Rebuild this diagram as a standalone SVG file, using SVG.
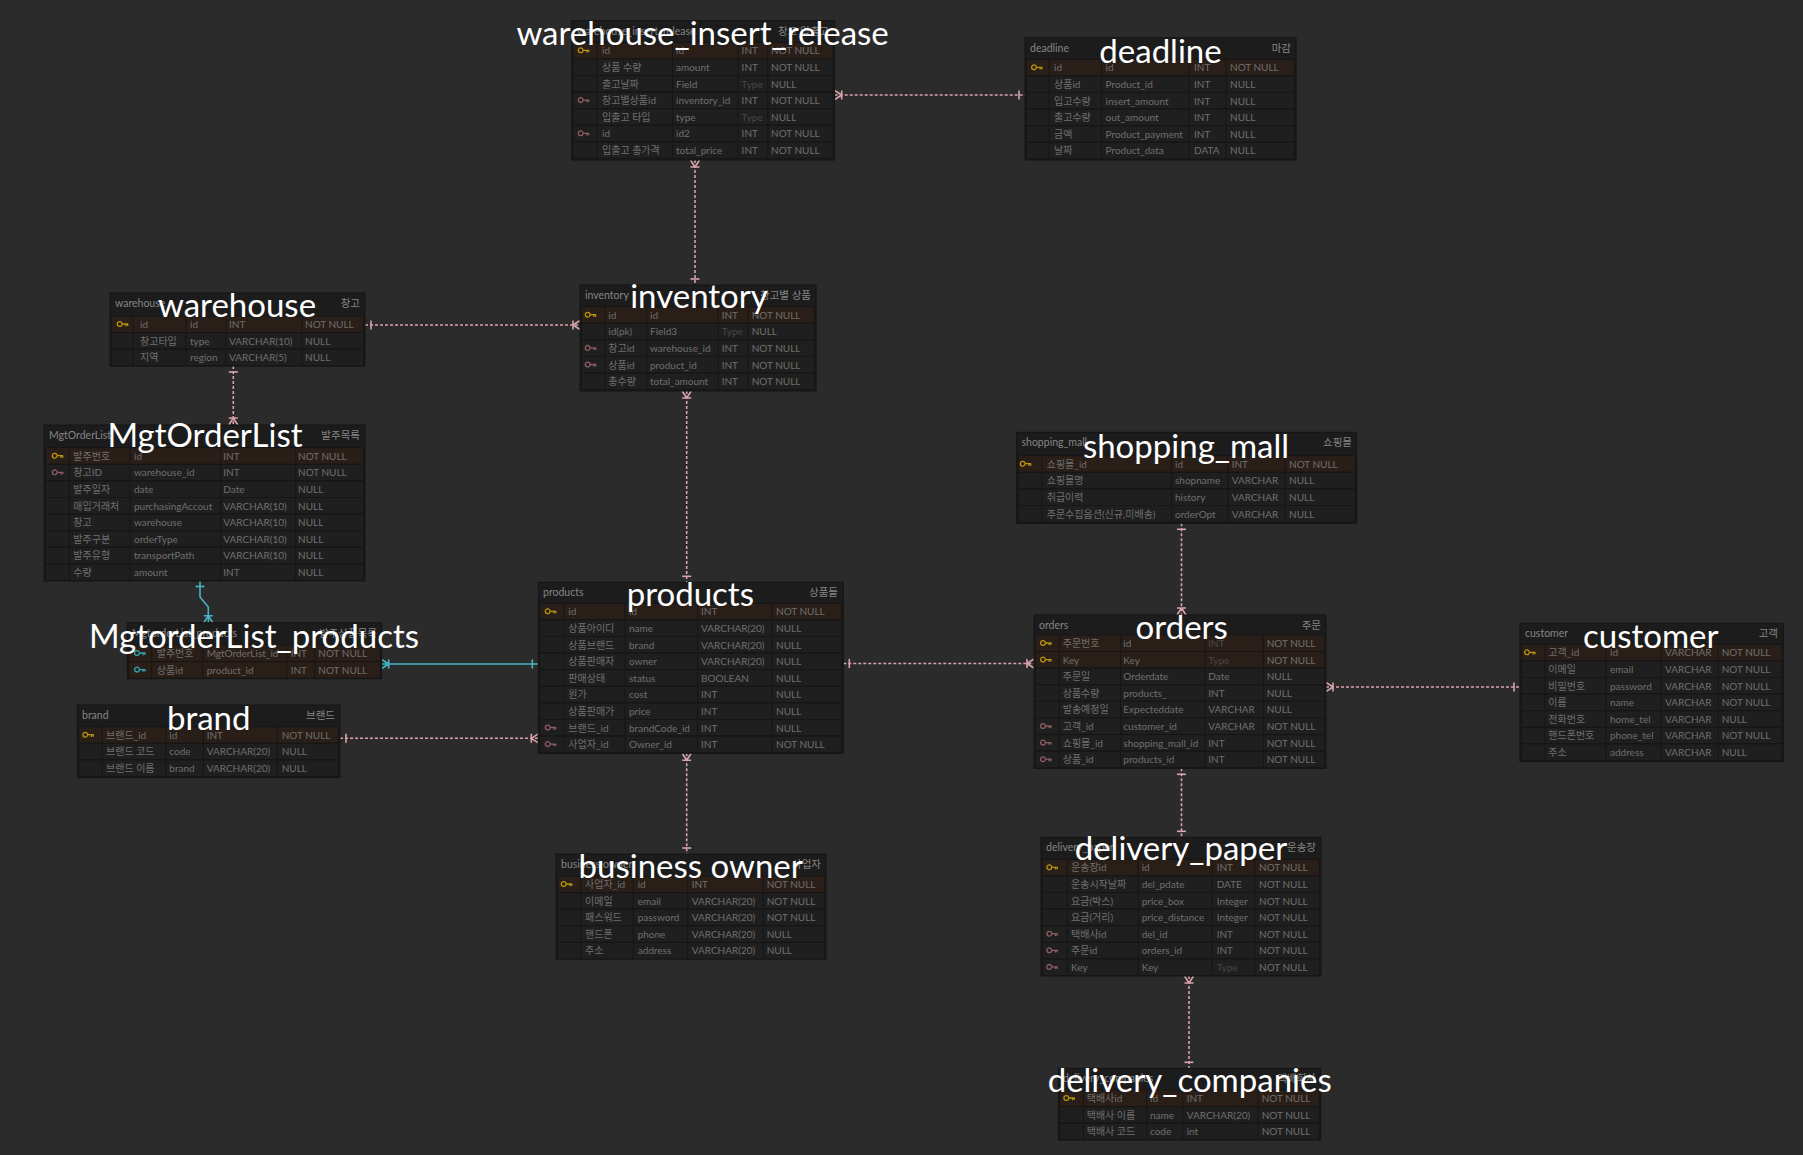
<svg xmlns="http://www.w3.org/2000/svg" xmlns:xlink="http://www.w3.org/1999/xlink" width="1803" height="1155" viewBox="0 0 1803 1155">
<style>
.bg{fill:#2b2b2b}
.tb{fill:#1c1c1c;stroke:#151515;stroke-width:1}
.rw{fill:#1f1f1f;stroke:#161616;stroke-width:1}
.pk{fill:#2a1f18;stroke:#161616;stroke-width:1}
.cl{stroke:#161616;stroke-width:1}
text{font-family:Lato,"Noto Sans CJK KR","Noto Sans",sans-serif}
.tn{font-size:10.5px;fill:#858585}
.c{font-size:10px;fill:#6f6f6f}
.d{font-size:10px;fill:#474747}
.big{font-size:33px;fill:#ffffff;text-anchor:middle}
.r{fill:none;stroke:#d9a2ac;stroke-width:1.6;stroke-dasharray:3 2}
.rc{fill:none;stroke:#46b4c3;stroke-width:1.6}
.kp{stroke:#b9950f;fill:none;stroke-width:1.3}
.kf{stroke:#8c5e63;fill:none;stroke-width:1.3}
.kc{stroke:#2fa7b8;fill:none;stroke-width:1.3}
</style>
<defs>
<symbol id="key" viewBox="-6 -4 12 8" width="12" height="8" overflow="visible">
<circle cx="-3" cy="0" r="2.4"/>
<path d="M-0.6,0 H5.5 M3.2,0 V2.2 M5,0 V2"/>
</symbol>
<marker id="oneP" markerUnits="userSpaceOnUse" viewBox="-12 -7 14 14" refX="0" refY="0" markerWidth="14" markerHeight="14" orient="auto-start-reverse">
<path d="M-6,-4.5 V4.5" stroke="#d9a2ac" stroke-width="1.6" fill="none"/>
</marker>
<marker id="manyP" markerUnits="userSpaceOnUse" viewBox="-12 -7 14 14" refX="0" refY="0" markerWidth="14" markerHeight="14" orient="auto-start-reverse">
<path d="M-7,0 L0,-4.5 M-7,0 L0,4.5 M-7,-4.5 V4.5" stroke="#d9a2ac" stroke-width="1.6" fill="none"/>
</marker>
<marker id="oneC" markerUnits="userSpaceOnUse" viewBox="-12 -7 14 14" refX="0" refY="0" markerWidth="14" markerHeight="14" orient="auto-start-reverse">
<path d="M-6,-4.5 V4.5" stroke="#46b4c3" stroke-width="1.6" fill="none"/>
</marker>
<marker id="manyC" markerUnits="userSpaceOnUse" viewBox="-12 -7 14 14" refX="0" refY="0" markerWidth="14" markerHeight="14" orient="auto-start-reverse">
<path d="M-7,0 L0,-4.5 M-7,0 L0,4.5 M-7,-4.5 V4.5" stroke="#46b4c3" stroke-width="1.6" fill="none"/>
</marker>
</defs>
<rect class="bg" x="0" y="0" width="1803" height="1155"/>

<g id="connectors">
<path class="r" d="M834.7,95 H1025" marker-start="url(#manyP)" marker-end="url(#oneP)"/>
<path class="r" d="M695,160 V285" marker-start="url(#manyP)" marker-end="url(#oneP)"/>
<path class="r" d="M365,325 H580" marker-start="url(#oneP)" marker-end="url(#manyP)"/>
<path class="r" d="M233.3,366 V425" marker-start="url(#oneP)" marker-end="url(#manyP)"/>
<path class="r" d="M686.7,391 V582.3" marker-start="url(#manyP)" marker-end="url(#oneP)"/>
<path class="rc" d="M200,580.5 V597 L208.3,607 V622.7" marker-start="url(#oneC)" marker-end="url(#manyC)"/>
<path class="rc" d="M381.7,664 H538.3" marker-start="url(#manyC)" marker-end="url(#oneC)"/>
<path class="r" d="M340,738.3 H538.3" marker-start="url(#oneP)" marker-end="url(#manyP)"/>
<path class="r" d="M686.7,753.3 V854" marker-start="url(#manyP)" marker-end="url(#oneP)"/>
<path class="r" d="M843.3,663.5 H1034" marker-start="url(#oneP)" marker-end="url(#manyP)"/>
<path class="r" d="M1181.5,523.3 V615" marker-start="url(#oneP)" marker-end="url(#manyP)"/>
<path class="r" d="M1326,687 H1520" marker-start="url(#manyP)" marker-end="url(#oneP)"/>
<path class="r" d="M1181.5,768.3 V837.3" marker-start="url(#oneP)" marker-end="url(#oneP)"/>
<path class="r" d="M1189,976 V1068.3" marker-start="url(#manyP)" marker-end="url(#oneP)"/>
</g>

<!-- warehouse_insert_release -->
<g id="warehouse_insert_release">
<rect class="tb" x="571.6" y="20.7" width="263" height="139.3"/>
<text class="tn" x="577" y="34.7">warehouse_insert_release</text>
<text class="tn" x="829" y="34.7" text-anchor="end">창고 입출고</text>
<rect class="pk" x="573" y="42.3" width="260" height="16.6"/>
<rect class="rw" x="573" y="58.9" width="260" height="16.6"/>
<rect class="rw" x="573" y="75.5" width="260" height="16.6"/>
<rect class="rw" x="573" y="92.1" width="260" height="16.6"/>
<rect class="rw" x="573" y="108.7" width="260" height="16.6"/>
<rect class="rw" x="573" y="125.3" width="260" height="16.6"/>
<rect class="rw" x="573" y="141.9" width="260" height="16.6"/>
<path class="cl" d="M596.8,42.3 V158.5 M672.6,42.3 V158.5 M738,42.3 V158.5 M767.8,42.3 V158.5"/>
<use href="#key" x="577.7" y="46.3" class="kp"/>
<use href="#key" x="577.7" y="96.1" class="kf"/>
<use href="#key" x="577.7" y="129.3" class="kf"/>
<text class="c" x="602" y="54.3">id</text><text class="c" x="676" y="54.3">id</text><text class="c" x="741.6" y="54.3">INT</text><text class="c" x="771" y="54.3">NOT NULL</text>
<text class="c" x="602" y="70.9">상품 수량</text><text class="c" x="676" y="70.9">amount</text><text class="c" x="741.6" y="70.9">INT</text><text class="c" x="771" y="70.9">NOT NULL</text>
<text class="c" x="602" y="87.5">출고날짜</text><text class="c" x="676" y="87.5">Field</text><text class="d" x="741.6" y="87.5">Type</text><text class="c" x="771" y="87.5">NULL</text>
<text class="c" x="602" y="104.1">창고별상품id</text><text class="c" x="676" y="104.1">inventory_id</text><text class="c" x="741.6" y="104.1">INT</text><text class="c" x="771" y="104.1">NOT NULL</text>
<text class="c" x="602" y="120.7">입출고 타입</text><text class="c" x="676" y="120.7">type</text><text class="d" x="741.6" y="120.7">Type</text><text class="c" x="771" y="120.7">NULL</text>
<text class="c" x="602" y="137.3">id</text><text class="c" x="676" y="137.3">id2</text><text class="c" x="741.6" y="137.3">INT</text><text class="c" x="771" y="137.3">NOT NULL</text>
<text class="c" x="602" y="153.9">입출고 총가격</text><text class="c" x="676" y="153.9">total_price</text><text class="c" x="741.6" y="153.9">INT</text><text class="c" x="771" y="153.9">NOT NULL</text>
<text class="big" x="702.6" y="45">warehouse_insert_release</text>
</g>

<!-- deadline -->
<g id="deadline">
<rect class="tb" x="1025" y="37.7" width="271" height="122.3"/>
<text class="tn" x="1030" y="51.7">deadline</text>
<text class="tn" x="1291" y="51.7" text-anchor="end">마감</text>
<rect class="pk" x="1026.5" y="59.3" width="268" height="16.6"/>
<rect class="rw" x="1026.5" y="75.9" width="268" height="16.6"/>
<rect class="rw" x="1026.5" y="92.5" width="268" height="16.6"/>
<rect class="rw" x="1026.5" y="109.1" width="268" height="16.6"/>
<rect class="rw" x="1026.5" y="125.7" width="268" height="16.6"/>
<rect class="rw" x="1026.5" y="142.3" width="268" height="16.6"/>
<path class="cl" d="M1049,59.3 V158.9 M1101.5,59.3 V158.9 M1189,59.3 V158.9 M1226,59.3 V158.9"/>
<use href="#key" x="1031" y="63.3" class="kp"/>
<text class="c" x="1054" y="71.3">id</text><text class="c" x="1105.6" y="71.3">id</text><text class="c" x="1194" y="71.3">INT</text><text class="c" x="1230" y="71.3">NOT NULL</text>
<text class="c" x="1054" y="87.9">상품id</text><text class="c" x="1105.6" y="87.9">Product_id</text><text class="c" x="1194" y="87.9">INT</text><text class="c" x="1230" y="87.9">NULL</text>
<text class="c" x="1054" y="104.5">입고수량</text><text class="c" x="1105.6" y="104.5">insert_amount</text><text class="c" x="1194" y="104.5">INT</text><text class="c" x="1230" y="104.5">NULL</text>
<text class="c" x="1054" y="121.1">출고수량</text><text class="c" x="1105.6" y="121.1">out_amount</text><text class="c" x="1194" y="121.1">INT</text><text class="c" x="1230" y="121.1">NULL</text>
<text class="c" x="1054" y="137.7">금액</text><text class="c" x="1105.6" y="137.7">Product_payment</text><text class="c" x="1194" y="137.7">INT</text><text class="c" x="1230" y="137.7">NULL</text>
<text class="c" x="1054" y="154.3">날짜</text><text class="c" x="1105.6" y="154.3">Product_data</text><text class="c" x="1194" y="154.3">DATA</text><text class="c" x="1230" y="154.3">NULL</text>
<text class="big" x="1160.5" y="63">deadline</text>
</g>

<!-- inventory -->
<g id="inventory">
<rect class="tb" x="580" y="285" width="236" height="106"/>
<text class="tn" x="585" y="299">inventory</text>
<text class="tn" x="811" y="299" text-anchor="end">창고별 상품</text>
<rect class="pk" x="581.5" y="306.7" width="233" height="16.6"/>
<rect class="rw" x="581.5" y="323.3" width="233" height="16.6"/>
<rect class="rw" x="581.5" y="339.9" width="233" height="16.6"/>
<rect class="rw" x="581.5" y="356.5" width="233" height="16.6"/>
<rect class="rw" x="581.5" y="373.1" width="233" height="16.6"/>
<path class="cl" d="M605,306.7 V389.7 M646.7,306.7 V389.7 M718.3,306.7 V389.7 M748.3,306.7 V389.7"/>
<use href="#key" x="584.7" y="310.7" class="kp"/>
<use href="#key" x="584.7" y="343.9" class="kf"/>
<use href="#key" x="584.7" y="360.5" class="kf"/>
<text class="c" x="608.3" y="318.7">id</text><text class="c" x="650" y="318.7">id</text><text class="c" x="721.7" y="318.7">INT</text><text class="c" x="751.7" y="318.7">NOT NULL</text>
<text class="c" x="608.3" y="335.3">id(pk)</text><text class="c" x="650" y="335.3">Field3</text><text class="d" x="721.7" y="335.3">Type</text><text class="c" x="751.7" y="335.3">NULL</text>
<text class="c" x="608.3" y="351.9">창고id</text><text class="c" x="650" y="351.9">warehouse_id</text><text class="c" x="721.7" y="351.9">INT</text><text class="c" x="751.7" y="351.9">NOT NULL</text>
<text class="c" x="608.3" y="368.5">상품id</text><text class="c" x="650" y="368.5">product_id</text><text class="c" x="721.7" y="368.5">INT</text><text class="c" x="751.7" y="368.5">NOT NULL</text>
<text class="c" x="608.3" y="385.1">총수량</text><text class="c" x="650" y="385.1">total_amount</text><text class="c" x="721.7" y="385.1">INT</text><text class="c" x="751.7" y="385.1">NOT NULL</text>
<text class="big" x="699" y="308.3">inventory</text>
</g>

<!-- warehouse -->
<g id="warehouse">
<rect class="tb" x="110" y="293" width="255" height="73"/>
<text class="tn" x="115" y="307">warehouse</text>
<text class="tn" x="360" y="307" text-anchor="end">창고</text>
<rect class="pk" x="111.5" y="316" width="252" height="16.6"/>
<rect class="rw" x="111.5" y="332.6" width="252" height="16.6"/>
<rect class="rw" x="111.5" y="349.2" width="252" height="16.6"/>
<path class="cl" d="M133,316 V365.8 M186,316 V365.8 M226,316 V365.8 M302,316 V365.8"/>
<use href="#key" x="116.7" y="320" class="kp"/>
<text class="c" x="140" y="328">id</text><text class="c" x="190" y="328">id</text><text class="c" x="229" y="328">INT</text><text class="c" x="305" y="328">NOT NULL</text>
<text class="c" x="140" y="344.6">창고타입</text><text class="c" x="190" y="344.6">type</text><text class="c" x="229" y="344.6">VARCHAR(10)</text><text class="c" x="305" y="344.6">NULL</text>
<text class="c" x="140" y="361.2">지역</text><text class="c" x="190" y="361.2">region</text><text class="c" x="229" y="361.2">VARCHAR(5)</text><text class="c" x="305" y="361.2">NULL</text>
<text class="big" x="237" y="317.3">warehouse</text>
</g>

<!-- MgtOrderList -->
<g id="MgtOrderList">
<rect class="tb" x="44" y="425" width="321" height="156"/>
<text class="tn" x="49" y="439">MgtOrderList</text>
<text class="tn" x="360" y="439" text-anchor="end">발주목록</text>
<rect class="pk" x="45.5" y="447.7" width="318" height="16.6"/>
<rect class="rw" x="45.5" y="464.3" width="318" height="16.6"/>
<rect class="rw" x="45.5" y="480.9" width="318" height="16.6"/>
<rect class="rw" x="45.5" y="497.5" width="318" height="16.6"/>
<rect class="rw" x="45.5" y="514.1" width="318" height="16.6"/>
<rect class="rw" x="45.5" y="530.7" width="318" height="16.6"/>
<rect class="rw" x="45.5" y="547.3" width="318" height="16.6"/>
<rect class="rw" x="45.5" y="563.9" width="318" height="16.6"/>
<path class="cl" d="M69.3,447.7 V580.5 M130,447.7 V580.5 M220.7,447.7 V580.5 M295.7,447.7 V580.5"/>
<use href="#key" x="51.7" y="451.7" class="kp"/>
<use href="#key" x="51.7" y="468.3" class="kf"/>
<text class="c" x="73.3" y="459.7">발주번호</text><text class="c" x="134" y="459.7">id</text><text class="c" x="223.3" y="459.7">INT</text><text class="c" x="298" y="459.7">NOT NULL</text>
<text class="c" x="73.3" y="476.3">창고ID</text><text class="c" x="134" y="476.3">warehouse_id</text><text class="c" x="223.3" y="476.3">INT</text><text class="c" x="298" y="476.3">NOT NULL</text>
<text class="c" x="73.3" y="492.9">발주일자</text><text class="c" x="134" y="492.9">date</text><text class="c" x="223.3" y="492.9">Date</text><text class="c" x="298" y="492.9">NULL</text>
<text class="c" x="73.3" y="509.5">매입거래처</text><text class="c" x="134" y="509.5">purchasingAccout</text><text class="c" x="223.3" y="509.5">VARCHAR(10)</text><text class="c" x="298" y="509.5">NULL</text>
<text class="c" x="73.3" y="526.1">창고</text><text class="c" x="134" y="526.1">warehouse</text><text class="c" x="223.3" y="526.1">VARCHAR(10)</text><text class="c" x="298" y="526.1">NULL</text>
<text class="c" x="73.3" y="542.7">발주구분</text><text class="c" x="134" y="542.7">orderType</text><text class="c" x="223.3" y="542.7">VARCHAR(10)</text><text class="c" x="298" y="542.7">NULL</text>
<text class="c" x="73.3" y="559.3">발주유형</text><text class="c" x="134" y="559.3">transportPath</text><text class="c" x="223.3" y="559.3">VARCHAR(10)</text><text class="c" x="298" y="559.3">NULL</text>
<text class="c" x="73.3" y="575.9">수량</text><text class="c" x="134" y="575.9">amount</text><text class="c" x="223.3" y="575.9">INT</text><text class="c" x="298" y="575.9">NULL</text>
<text class="big" x="205" y="446.7">MgtOrderList</text>
</g>

<!-- MgtorderList_products -->
<g id="MgtorderList_products">
<rect class="tb" x="127.3" y="622.7" width="254.4" height="56"/>
<text class="tn" x="132" y="636.7">MgtorderList_products</text>
<text class="tn" x="377" y="636.7" text-anchor="end">발주상품목록</text>
<rect class="pk" x="128.8" y="645" width="251.4" height="16.6"/>
<rect class="pk" x="128.8" y="661.6" width="251.4" height="16.6"/>
<path class="cl" d="M151.7,645 V678.2 M202.7,645 V678.2 M286.7,645 V678.2 M315,645 V678.2"/>
<use href="#key" x="134" y="649" class="kc"/>
<use href="#key" x="134" y="665.6" class="kc"/>
<text class="c" x="156.7" y="657">발주번호</text><text class="c" x="206.7" y="657">MgtOrderList_id</text><text class="c" x="290.7" y="657">INT</text><text class="c" x="318.3" y="657">NOT NULL</text>
<text class="c" x="156.7" y="673.6">상품id</text><text class="c" x="206.7" y="673.6">product_id</text><text class="c" x="290.7" y="673.6">INT</text><text class="c" x="318.3" y="673.6">NOT NULL</text>
<text class="big" x="254" y="647.7">MgtorderList_products</text>
</g>

<!-- brand -->
<g id="brand">
<rect class="tb" x="77.3" y="705" width="262.7" height="72.7"/>
<text class="tn" x="82" y="719">brand</text>
<text class="tn" x="335" y="719" text-anchor="end">브랜드</text>
<rect class="pk" x="78.8" y="726.7" width="259.7" height="16.6"/>
<rect class="rw" x="78.8" y="743.3" width="259.7" height="16.6"/>
<rect class="rw" x="78.8" y="759.9" width="259.7" height="16.6"/>
<path class="cl" d="M102.3,726.7 V776.5 M165.7,726.7 V776.5 M203.3,726.7 V776.5 M277.3,726.7 V776.5"/>
<use href="#key" x="82.3" y="730.7" class="kp"/>
<text class="c" x="106" y="738.7">브랜드_id</text><text class="c" x="169.3" y="738.7">id</text><text class="c" x="206.7" y="738.7">INT</text><text class="c" x="281.7" y="738.7">NOT NULL</text>
<text class="c" x="106" y="755.3">브랜드 코드</text><text class="c" x="169.3" y="755.3">code</text><text class="c" x="206.7" y="755.3">VARCHAR(20)</text><text class="c" x="281.7" y="755.3">NULL</text>
<text class="c" x="106" y="771.9">브랜드 이름</text><text class="c" x="169.3" y="771.9">brand</text><text class="c" x="206.7" y="771.9">VARCHAR(20)</text><text class="c" x="281.7" y="771.9">NULL</text>
<text class="big" x="208.7" y="730">brand</text>
</g>

<!-- products -->
<g id="products">
<rect class="tb" x="538.3" y="582.3" width="305" height="171"/>
<text class="tn" x="543" y="596.3">products</text>
<text class="tn" x="838" y="596.3" text-anchor="end">상품들</text>
<rect class="pk" x="539.8" y="603.3" width="302" height="16.6"/>
<rect class="rw" x="539.8" y="619.9" width="302" height="16.6"/>
<rect class="rw" x="539.8" y="636.5" width="302" height="16.6"/>
<rect class="rw" x="539.8" y="653.1" width="302" height="16.6"/>
<rect class="rw" x="539.8" y="669.7" width="302" height="16.6"/>
<rect class="rw" x="539.8" y="686.3" width="302" height="16.6"/>
<rect class="rw" x="539.8" y="702.9" width="302" height="16.6"/>
<rect class="rw" x="539.8" y="719.5" width="302" height="16.6"/>
<rect class="rw" x="539.8" y="736.1" width="302" height="16.6"/>
<path class="cl" d="M564,603.3 V752.7 M625,603.3 V752.7 M697.7,603.3 V752.7 M772.3,603.3 V752.7"/>
<use href="#key" x="544.7" y="607.3" class="kp"/>
<use href="#key" x="544.7" y="723.5" class="kf"/>
<use href="#key" x="544.7" y="740.1" class="kf"/>
<text class="c" x="568.3" y="615.3">id</text><text class="c" x="629" y="615.3">id</text><text class="c" x="701" y="615.3">INT</text><text class="c" x="776" y="615.3">NOT NULL</text>
<text class="c" x="568.3" y="631.9">상품아이디</text><text class="c" x="629" y="631.9">name</text><text class="c" x="701" y="631.9">VARCHAR(20)</text><text class="c" x="776" y="631.9">NULL</text>
<text class="c" x="568.3" y="648.5">상품브랜드</text><text class="c" x="629" y="648.5">brand</text><text class="c" x="701" y="648.5">VARCHAR(20)</text><text class="c" x="776" y="648.5">NULL</text>
<text class="c" x="568.3" y="665.1">상품판매자</text><text class="c" x="629" y="665.1">owner</text><text class="c" x="701" y="665.1">VARCHAR(20)</text><text class="c" x="776" y="665.1">NULL</text>
<text class="c" x="568.3" y="681.7">판매상태</text><text class="c" x="629" y="681.7">status</text><text class="c" x="701" y="681.7">BOOLEAN</text><text class="c" x="776" y="681.7">NULL</text>
<text class="c" x="568.3" y="698.3">원가</text><text class="c" x="629" y="698.3">cost</text><text class="c" x="701" y="698.3">INT</text><text class="c" x="776" y="698.3">NULL</text>
<text class="c" x="568.3" y="714.9">상품판매가</text><text class="c" x="629" y="714.9">price</text><text class="c" x="701" y="714.9">INT</text><text class="c" x="776" y="714.9">NULL</text>
<text class="c" x="568.3" y="731.5">브랜드_id</text><text class="c" x="629" y="731.5">brandCode_id</text><text class="c" x="701" y="731.5">INT</text><text class="c" x="776" y="731.5">NULL</text>
<text class="c" x="568.3" y="748.1">사업자_id</text><text class="c" x="629" y="748.1">Owner_id</text><text class="c" x="701" y="748.1">INT</text><text class="c" x="776" y="748.1">NOT NULL</text>
<text class="big" x="690.3" y="605.7">products</text>
</g>

<!-- business owner -->
<g id="business_owner">
<rect class="tb" x="556" y="854" width="270" height="105"/>
<text class="tn" x="561" y="868">business owner</text>
<text class="tn" x="821" y="868" text-anchor="end">사업자</text>
<rect class="pk" x="557.5" y="876" width="267" height="16.6"/>
<rect class="rw" x="557.5" y="892.6" width="267" height="16.6"/>
<rect class="rw" x="557.5" y="909.2" width="267" height="16.6"/>
<rect class="rw" x="557.5" y="925.8" width="267" height="16.6"/>
<rect class="rw" x="557.5" y="942.4" width="267" height="16.6"/>
<path class="cl" d="M580.7,876 V959 M633.3,876 V959 M687.7,876 V959 M763.3,876 V959"/>
<use href="#key" x="560.7" y="880" class="kp"/>
<text class="c" x="585" y="888">사업자_id</text><text class="c" x="637.7" y="888">id</text><text class="c" x="691.7" y="888">INT</text><text class="c" x="766.7" y="888">NOT NULL</text>
<text class="c" x="585" y="904.6">이메일</text><text class="c" x="637.7" y="904.6">email</text><text class="c" x="691.7" y="904.6">VARCHAR(20)</text><text class="c" x="766.7" y="904.6">NOT NULL</text>
<text class="c" x="585" y="921.2">패스워드</text><text class="c" x="637.7" y="921.2">password</text><text class="c" x="691.7" y="921.2">VARCHAR(20)</text><text class="c" x="766.7" y="921.2">NOT NULL</text>
<text class="c" x="585" y="937.8">핸드폰</text><text class="c" x="637.7" y="937.8">phone</text><text class="c" x="691.7" y="937.8">VARCHAR(20)</text><text class="c" x="766.7" y="937.8">NULL</text>
<text class="c" x="585" y="954.4">주소</text><text class="c" x="637.7" y="954.4">address</text><text class="c" x="691.7" y="954.4">VARCHAR(20)</text><text class="c" x="766.7" y="954.4">NULL</text>
<text class="big" x="690.7" y="878.3">business owner</text>
</g>

<!-- shopping_mall -->
<g id="shopping_mall">
<rect class="tb" x="1016.7" y="432.3" width="340" height="91"/>
<text class="tn" x="1021.5" y="446.3">shopping_mall</text>
<text class="tn" x="1352" y="446.3" text-anchor="end">쇼핑몰</text>
<rect class="pk" x="1018.2" y="455.7" width="337" height="16.6"/>
<rect class="rw" x="1018.2" y="472.3" width="337" height="16.6"/>
<rect class="rw" x="1018.2" y="488.9" width="337" height="16.6"/>
<rect class="rw" x="1018.2" y="505.5" width="337" height="16.6"/>
<path class="cl" d="M1041.7,455.7 V522.1 M1171.7,455.7 V522.1 M1227.7,455.7 V522.1 M1285,455.7 V522.1"/>
<use href="#key" x="1019.7" y="459.7" class="kp"/>
<text class="c" x="1046.7" y="467.7">쇼핑몰_id</text><text class="c" x="1175" y="467.7">id</text><text class="c" x="1231.7" y="467.7">INT</text><text class="c" x="1289" y="467.7">NOT NULL</text>
<text class="c" x="1046.7" y="484.3">쇼핑몰명</text><text class="c" x="1175" y="484.3">shopname</text><text class="c" x="1231.7" y="484.3">VARCHAR</text><text class="c" x="1289" y="484.3">NULL</text>
<text class="c" x="1046.7" y="500.9">취급이력</text><text class="c" x="1175" y="500.9">history</text><text class="c" x="1231.7" y="500.9">VARCHAR</text><text class="c" x="1289" y="500.9">NULL</text>
<text class="c" x="1046.7" y="517.5">주문수집옵션(신규,미배송)</text><text class="c" x="1175" y="517.5">orderOpt</text><text class="c" x="1231.7" y="517.5">VARCHAR</text><text class="c" x="1289" y="517.5">NULL</text>
<text class="big" x="1186" y="458.3">shopping_mall</text>
</g>

<!-- orders -->
<g id="orders">
<rect class="tb" x="1034" y="615" width="292" height="153.3"/>
<text class="tn" x="1039" y="629">orders</text>
<text class="tn" x="1321" y="629" text-anchor="end">주문</text>
<rect class="pk" x="1035.5" y="635" width="289" height="16.6"/>
<rect class="pk" x="1035.5" y="651.6" width="289" height="16.6"/>
<rect class="rw" x="1035.5" y="668.2" width="289" height="16.6"/>
<rect class="rw" x="1035.5" y="684.8" width="289" height="16.6"/>
<rect class="rw" x="1035.5" y="701.4" width="289" height="16.6"/>
<rect class="rw" x="1035.5" y="718" width="289" height="16.6"/>
<rect class="rw" x="1035.5" y="734.6" width="289" height="16.6"/>
<rect class="rw" x="1035.5" y="751.2" width="289" height="16.6"/>
<path class="cl" d="M1059.3,635 V767.8 M1120.7,635 V767.8 M1205,635 V767.8 M1263.3,635 V767.8"/>
<use href="#key" x="1040" y="639" class="kp"/>
<use href="#key" x="1040" y="655.6" class="kp"/>
<use href="#key" x="1040" y="722" class="kf"/>
<use href="#key" x="1040" y="738.6" class="kf"/>
<use href="#key" x="1040" y="755.2" class="kf"/>
<text class="c" x="1062.7" y="647">주문번호</text><text class="c" x="1123.3" y="647">id</text><text class="d" x="1208.3" y="647">INT</text><text class="c" x="1266.7" y="647">NOT NULL</text>
<text class="c" x="1062.7" y="663.6">Key</text><text class="c" x="1123.3" y="663.6">Key</text><text class="d" x="1208.3" y="663.6">Type</text><text class="c" x="1266.7" y="663.6">NOT NULL</text>
<text class="c" x="1062.7" y="680.2">주문일</text><text class="c" x="1123.3" y="680.2">Orderdate</text><text class="c" x="1208.3" y="680.2">Date</text><text class="c" x="1266.7" y="680.2">NULL</text>
<text class="c" x="1062.7" y="696.8">상품수량</text><text class="c" x="1123.3" y="696.8">products_</text><text class="c" x="1208.3" y="696.8">INT</text><text class="c" x="1266.7" y="696.8">NULL</text>
<text class="c" x="1062.7" y="713.4">발송예정일</text><text class="c" x="1123.3" y="713.4">Expecteddate</text><text class="c" x="1208.3" y="713.4">VARCHAR</text><text class="c" x="1266.7" y="713.4">NULL</text>
<text class="c" x="1062.7" y="730">고객_id</text><text class="c" x="1123.3" y="730">customer_id</text><text class="c" x="1208.3" y="730">VARCHAR</text><text class="c" x="1266.7" y="730">NOT NULL</text>
<text class="c" x="1062.7" y="746.6">쇼핑몰_id</text><text class="c" x="1123.3" y="746.6">shopping_mall_id</text><text class="c" x="1208.3" y="746.6">INT</text><text class="c" x="1266.7" y="746.6">NOT NULL</text>
<text class="c" x="1062.7" y="763.2">상품_id</text><text class="c" x="1123.3" y="763.2">products_id</text><text class="c" x="1208.3" y="763.2">INT</text><text class="c" x="1266.7" y="763.2">NOT NULL</text>
<text class="big" x="1181.7" y="639">orders</text>
</g>

<!-- customer -->
<g id="customer">
<rect class="tb" x="1520" y="623.3" width="263.3" height="138.4"/>
<text class="tn" x="1525" y="637.3">customer</text>
<text class="tn" x="1778" y="637.3" text-anchor="end">고객</text>
<rect class="pk" x="1521.5" y="644.3" width="260.3" height="16.6"/>
<rect class="rw" x="1521.5" y="660.9" width="260.3" height="16.6"/>
<rect class="rw" x="1521.5" y="677.5" width="260.3" height="16.6"/>
<rect class="rw" x="1521.5" y="694.1" width="260.3" height="16.6"/>
<rect class="rw" x="1521.5" y="710.7" width="260.3" height="16.6"/>
<rect class="rw" x="1521.5" y="727.3" width="260.3" height="16.6"/>
<rect class="rw" x="1521.5" y="743.9" width="260.3" height="16.6"/>
<path class="cl" d="M1545,644.3 V760.5 M1605.7,644.3 V760.5 M1661,644.3 V760.5 M1718.3,644.3 V760.5"/>
<use href="#key" x="1524" y="648.3" class="kp"/>
<text class="c" x="1548.3" y="656.3">고객_id</text><text class="c" x="1610" y="656.3">id</text><text class="c" x="1665" y="656.3">VARCHAR</text><text class="c" x="1721.7" y="656.3">NOT NULL</text>
<text class="c" x="1548.3" y="672.9">이메일</text><text class="c" x="1610" y="672.9">email</text><text class="c" x="1665" y="672.9">VARCHAR</text><text class="c" x="1721.7" y="672.9">NOT NULL</text>
<text class="c" x="1548.3" y="689.5">비밀번호</text><text class="c" x="1610" y="689.5">password</text><text class="c" x="1665" y="689.5">VARCHAR</text><text class="c" x="1721.7" y="689.5">NOT NULL</text>
<text class="c" x="1548.3" y="706.1">이름</text><text class="c" x="1610" y="706.1">name</text><text class="c" x="1665" y="706.1">VARCHAR</text><text class="c" x="1721.7" y="706.1">NOT NULL</text>
<text class="c" x="1548.3" y="722.7">전화번호</text><text class="c" x="1610" y="722.7">home_tel</text><text class="c" x="1665" y="722.7">VARCHAR</text><text class="c" x="1721.7" y="722.7">NULL</text>
<text class="c" x="1548.3" y="739.3">핸드폰번호</text><text class="c" x="1610" y="739.3">phone_tel</text><text class="c" x="1665" y="739.3">VARCHAR</text><text class="c" x="1721.7" y="739.3">NOT NULL</text>
<text class="c" x="1548.3" y="755.9">주소</text><text class="c" x="1610" y="755.9">address</text><text class="c" x="1665" y="755.9">VARCHAR</text><text class="c" x="1721.7" y="755.9">NULL</text>
<text class="big" x="1650.8" y="648.3">customer</text>
</g>

<!-- delivery_paper -->
<g id="delivery_paper">
<rect class="tb" x="1041" y="837.3" width="280" height="138.7"/>
<text class="tn" x="1046" y="851.3">delivery_paper</text>
<text class="tn" x="1316" y="851.3" text-anchor="end">운송장</text>
<rect class="pk" x="1042.5" y="859.3" width="277" height="16.6"/>
<rect class="rw" x="1042.5" y="875.9" width="277" height="16.6"/>
<rect class="rw" x="1042.5" y="892.5" width="277" height="16.6"/>
<rect class="rw" x="1042.5" y="909.1" width="277" height="16.6"/>
<rect class="rw" x="1042.5" y="925.7" width="277" height="16.6"/>
<rect class="rw" x="1042.5" y="942.3" width="277" height="16.6"/>
<rect class="rw" x="1042.5" y="958.9" width="277" height="16.6"/>
<path class="cl" d="M1067.3,859.3 V975.5 M1138.3,859.3 V975.5 M1212.3,859.3 V975.5 M1255,859.3 V975.5"/>
<use href="#key" x="1046.3" y="863.3" class="kp"/>
<use href="#key" x="1046.3" y="929.7" class="kf"/>
<use href="#key" x="1046.3" y="946.3" class="kf"/>
<use href="#key" x="1046.3" y="962.9" class="kf"/>
<text class="c" x="1071" y="871.3">운송장id</text><text class="c" x="1141.7" y="871.3">id</text><text class="c" x="1216.7" y="871.3">INT</text><text class="c" x="1259" y="871.3">NOT NULL</text>
<text class="c" x="1071" y="887.9">운송시작날짜</text><text class="c" x="1141.7" y="887.9">del_pdate</text><text class="c" x="1216.7" y="887.9">DATE</text><text class="c" x="1259" y="887.9">NOT NULL</text>
<text class="c" x="1071" y="904.5">요금(박스)</text><text class="c" x="1141.7" y="904.5">price_box</text><text class="c" x="1216.7" y="904.5">Integer</text><text class="c" x="1259" y="904.5">NOT NULL</text>
<text class="c" x="1071" y="921.1">요금(거리)</text><text class="c" x="1141.7" y="921.1">price_distance</text><text class="c" x="1216.7" y="921.1">Integer</text><text class="c" x="1259" y="921.1">NOT NULL</text>
<text class="c" x="1071" y="937.7">택배사id</text><text class="c" x="1141.7" y="937.7">del_id</text><text class="c" x="1216.7" y="937.7">INT</text><text class="c" x="1259" y="937.7">NOT NULL</text>
<text class="c" x="1071" y="954.3">주문id</text><text class="c" x="1141.7" y="954.3">orders_id</text><text class="c" x="1216.7" y="954.3">INT</text><text class="c" x="1259" y="954.3">NOT NULL</text>
<text class="c" x="1071" y="970.9">Key</text><text class="c" x="1141.7" y="970.9">Key</text><text class="d" x="1216.7" y="970.9">Type</text><text class="c" x="1259" y="970.9">NOT NULL</text>
<text class="big" x="1181" y="860">delivery_paper</text>
</g>

<!-- delivery_companies -->
<g id="delivery_companies">
<rect class="tb" x="1058.3" y="1068.3" width="262.4" height="71.7"/>
<text class="tn" x="1063" y="1082.3">delivery_companies</text>
<text class="tn" x="1316" y="1082.3" text-anchor="end">택배회사</text>
<rect class="pk" x="1059.8" y="1090" width="259.4" height="16.6"/>
<rect class="rw" x="1059.8" y="1106.6" width="259.4" height="16.6"/>
<rect class="rw" x="1059.8" y="1123.2" width="259.4" height="16.6"/>
<path class="cl" d="M1083.3,1090 V1139.8 M1146.7,1090 V1139.8 M1182.7,1090 V1139.8 M1258.3,1090 V1139.8"/>
<use href="#key" x="1063.3" y="1094" class="kp"/>
<text class="c" x="1086.7" y="1102">택배사id</text><text class="c" x="1150" y="1102">id</text><text class="c" x="1186.7" y="1102">INT</text><text class="c" x="1261.7" y="1102">NOT NULL</text>
<text class="c" x="1086.7" y="1118.6">택배사 이름</text><text class="c" x="1150" y="1118.6">name</text><text class="c" x="1186.7" y="1118.6">VARCHAR(20)</text><text class="c" x="1261.7" y="1118.6">NOT NULL</text>
<text class="c" x="1086.7" y="1135.2">택배사 코드</text><text class="c" x="1150" y="1135.2">code</text><text class="c" x="1186.7" y="1135.2">int</text><text class="c" x="1261.7" y="1135.2">NOT NULL</text>
<text class="big" x="1189.7" y="1091.7">delivery_companies</text>
</g>
</svg>
